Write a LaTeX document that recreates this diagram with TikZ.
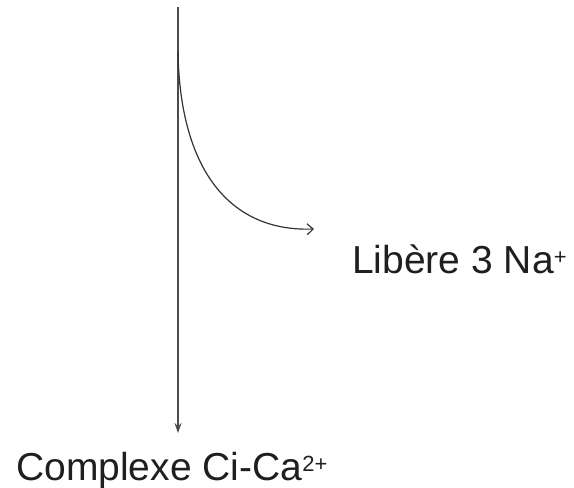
\documentclass[tikz,border=0pt]{standalone}
\usepackage{fontspec}
\setmainfont{Liberation Sans}
\usetikzlibrary{arrows.meta, positioning}
\usepackage{xcolor}

\newcommand{\ionsup}[1]{\raisebox{9pt}{\fontsize{22}{22}\selectfont #1}}

\begin{document}
\begin{tikzpicture}[
    x=1pt, y=-1pt,
    font=\fontsize{39}{44}\selectfont,
    label/.style={
      inner sep=0pt, anchor=base west,
      text=black!88
    },
    arrow/.style={line width=1.2pt, black!80}
  ]
    \useasboundingbox (0,0) rectangle (574,488);

    % --- Main line ---
    \coordinate (top) at (178,7);
    \coordinate (split) at (178,52);
    \coordinate (tip) at (178,433);

    % --- Labels ---
    \node[label] (release) at (352,273) {Libère 3 Na\ionsup{+}};
    \node[label] (complex) at (16,480) {Complexe Ci-Ca\ionsup{2+}};

    % --- Curve end ---
    \coordinate (curveend) at (314,229);

    % --- Connectors ---
    \draw[arrow, black!70, -{Stealth[length=10pt, width=7pt]}] (top) -- (tip);
    \draw[arrow, -{Straight Barb[length=6pt, width=11pt]}] (split)
      .. controls (180,170) and (230,232) .. (curveend);

  \end{tikzpicture}
\end{document}
